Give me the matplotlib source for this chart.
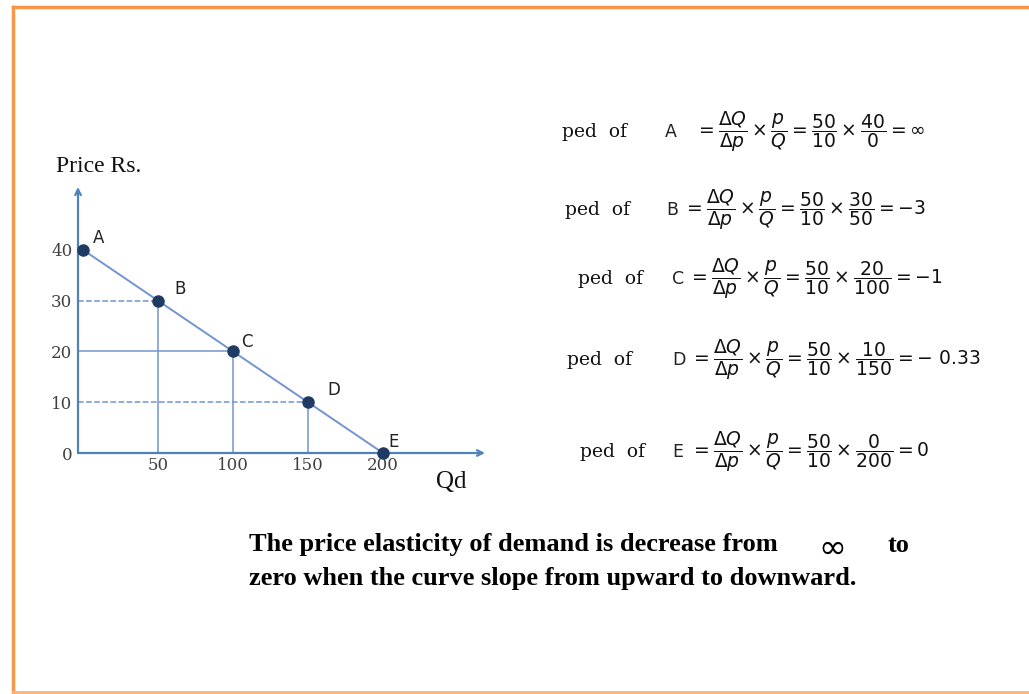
import matplotlib.pyplot as plt

# demand schedule
points = ["A", "B", "C", "D", "E"]
qty = [0, 50, 100, 150, 200]
price = [40, 30, 20, 10, 0]
guide_style = ["", "--", "-", "--", ""]  # horizontal guide from price axis
x_ticks = [50, 100, 150, 200]
y_ticks = [0, 10, 20, 30, 40]
results = [r"\infty", r"\mathsf{-3}", r"\mathsf{-1}", r"\mathsf{-\ 0.33}", r"\mathsf{0}"]

W, H = 1029, 694
fig = plt.figure(figsize=(W / 100, H / 100), dpi=100)
plt.rcParams["mathtext.fontset"] = "dejavusans"

def fx(px):
    return px / W

def fy(py):
    return 1 - py / H

# orange frame (no right edge visible)
frame = "#f79646"
fig.add_artist(plt.Line2D([fx(13), fx(13)], [fy(7), fy(692)], color=frame, lw=2.5))
fig.add_artist(plt.Line2D([fx(13), fx(1029)], [fy(7), fy(7)], color=frame, lw=2.5))
fig.add_artist(plt.Line2D([fx(13), fx(1029)], [fy(692), fy(692)], color="#f9b27a", lw=2))

# demand chart
x0, y0 = 78, 453
ax = fig.add_axes([fx(x0), fy(y0), (485 - x0) / W, (y0 - 187) / H])
ax.set_xlim(-3.3, -3.3 + (485 - x0) / 1.5)
ax.set_ylim(0, (y0 - 187) / 5.08)
for s in ax.spines.values():
    s.set_visible(False)
ax.patch.set_alpha(0)

axis_col = "#4f81bd"
ax.annotate("", xy=(1, 0), xytext=(0, 0), xycoords="axes fraction",
            arrowprops=dict(arrowstyle="->", color=axis_col, lw=1.6, shrinkA=0, shrinkB=0))
ax.annotate("", xy=(0, 1), xytext=(0, 0), xycoords="axes fraction",
            arrowprops=dict(arrowstyle="->", color=axis_col, lw=1.6, shrinkA=0, shrinkB=0))

line_col = "#7195cf"
for q, p, ls in zip(qty, price, guide_style):
    if ls:
        ax.plot([-3.3, q], [p, p], ls, color=line_col, lw=1.1)
    if 0 < q < 200:
        ax.plot([q, q], [0, p], "-", color=line_col, lw=1.1)
ax.plot(qty, price, "-", color=line_col, lw=1.4)
ax.plot(qty, price, "o", color="#1f3b64", ms=8, clip_on=False, zorder=5)

offsets = {"A": (7, 5), "B": (12, 5), "C": (6, 3), "D": (14, 5), "E": (4, 4)}
for name, q, p in zip(points, qty, price):
    dx, dy = offsets[name]
    ax.annotate(name, (q, p), xytext=(dx, dy), textcoords="offset points",
                fontsize=12, family="DejaVu Sans", color="#222222")

ax.set_xticks(x_ticks)
ax.set_yticks(y_ticks)
ax.tick_params(length=0, labelsize=12, labelcolor="#404040", pad=3)
for lab in ax.get_xticklabels() + ax.get_yticklabels():
    lab.set_family("DejaVu Serif")
ax.tick_params(axis="y", pad=4)

fig.text(fx(56), fy(166), "Price Rs.", family="Liberation Serif", fontsize=17,
         va="center", color="#111111")
fig.text(fx(436), fy(482), "Qd", family="Liberation Serif", fontsize=18,
         va="center", color="#111111")

# elasticity formulas
rows_y = [132, 210, 279, 360, 452]
ped_x = [562, 565, 578, 567, 580]
let_x = [665, 666, 672, 672, 672]
eq_x = [695, 683, 688, 690, 690]
for name, p, q, res, ry, px, lx, ex in zip(points, price, qty, results,
                                          rows_y, ped_x, let_x, eq_x):
    fig.text(fx(px), fy(ry), "ped  of", family="DejaVu Serif", fontsize=13.5,
             va="center", color="#111111")
    fig.text(fx(lx), fy(ry), name, family="DejaVu Sans", fontsize=12.5,
             va="center", color="#222222")
    formula = (r"$=\dfrac{\Delta Q}{\Delta p}\times\dfrac{p}{Q}=\dfrac{50}{10}\times"
               r"\dfrac{%d}{%d}=%s$" % (p, q, res))
    fig.text(fx(ex), fy(ry), formula, fontsize=13.5, va="center", color="#111111")

# conclusion
bold = dict(family="Liberation Serif", weight="bold", fontsize=19, va="center")
fig.text(fx(249), fy(545), "The price elasticity of demand is decrease from", **bold)
fig.text(fx(818), fy(547), r"$\infty$", fontsize=24, va="center")
fig.text(fx(888), fy(545), "to", **bold)
fig.text(fx(249), fy(578), "zero when the curve slope from upward to downward.", **bold)

fig.savefig("out.png", dpi=100)
